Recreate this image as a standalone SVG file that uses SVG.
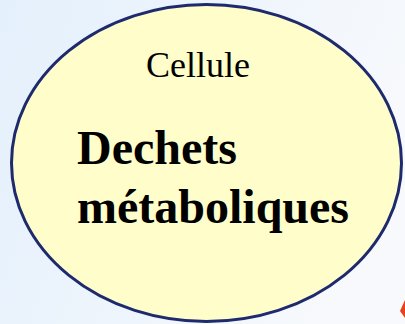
<svg xmlns="http://www.w3.org/2000/svg" width="405" height="324" viewBox="0 0 405 324">
  <defs>
    <linearGradient id="bg" x1="0" y1="0" x2="1" y2="0.3">
      <stop offset="0" stop-color="#E4F0FC"/>
      <stop offset="1" stop-color="#F7F9FC"/>
    </linearGradient>
    <style>
      .cell { fill: #FFFDCA; stroke: #1E2A6E; stroke-width: 3; }
      .t { font-family: "Liberation Serif", "Times New Roman", serif; fill: #000; }
      .small { font-size: 36px; }
      .big { font-size: 48px; font-weight: bold; }
    </style>
  </defs>
  <rect width="405" height="324" fill="url(#bg)"/>
  <g id="cellule">
    <ellipse class="cell" cx="206.5" cy="163" rx="195" ry="158.5"/>
    <text class="t small" x="146" y="77">Cellule</text>
    <text class="t big" x="77" y="164">Dechets</text>
    <text class="t big" x="77" y="223">métaboliques</text>
  </g>
  <g id="connectors">
    <polygon points="405,300 400,311 405,318" fill="#E8421C"/>
  </g>
</svg>
